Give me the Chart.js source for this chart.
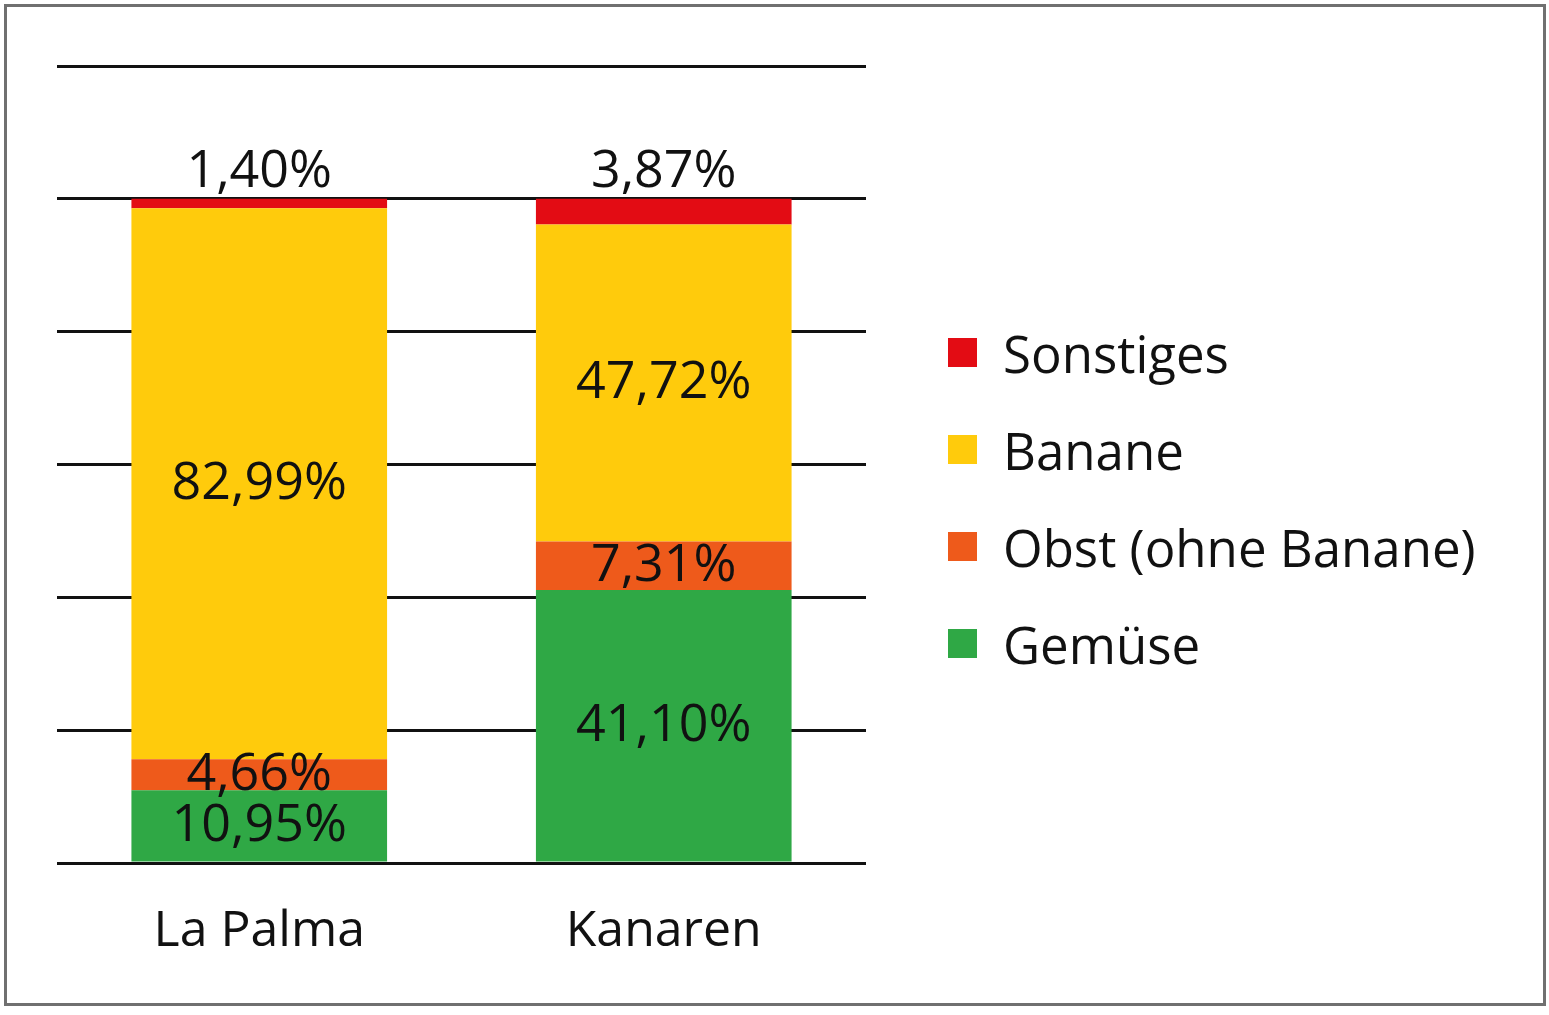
<!DOCTYPE html>
<html lang="de">
<head>
<meta charset="utf-8">
<title>Anteile Export La Palma / Kanaren</title>
<script src="https://cdn.jsdelivr.net/npm/chart.js@4.4.1/dist/chart.umd.min.js"></script>
<style>
  html, body { margin: 0; padding: 0; background: #fff; }
  #wrap { position: relative; width: 1549px; height: 1015px; }
  #frame {
    position: absolute; left: 4px; top: 4px; width: 1536px; height: 996px;
    border: 3px solid #707070; pointer-events: none;
  }
  #legend {
    position: absolute; left: 948px; top: 304px; margin: 0; padding: 0;
    list-style: none; font-family: "Open Sans", sans-serif;
    font-size: 51px; color: #111;
  }
  #legend li { display: flex; align-items: center; height: 97px; white-space: nowrap; }
  #legend span.box { width: 29px; height: 29px; margin-right: 26px; flex: none; }
</style>
</head>
<body>
<div id="wrap">
  <canvas id="exportChart"></canvas>
  <ul id="legend"></ul>
  <div id="frame"></div>
</div>
<script>
// Categories and shares (percent) per product group
const regions = ["La Palma", "Kanaren"];
const gemuese = [10.95, 41.10];
const obst = [4.66, 7.31];
const banane = [82.99, 47.72];
const sonstiges = [1.40, 3.87];
const yTicks = [0, 20, 40, 60, 80, 100, 120];

// Write numbers the German way: 82,99%
const fmt = (v) => v.toFixed(2).replace(".", ",") + "%";

// Draws the value labels; the top series sits above the bar
const valueLabels = {
  id: "valueLabels",
  afterDatasetsDraw(chart) {
    const { ctx } = chart;
    const last = chart.data.datasets.length - 1;
    ctx.save();
    ctx.font = '52px "Open Sans", sans-serif';
    ctx.fillStyle = "#111";
    ctx.textAlign = "center";
    chart.data.datasets.forEach((ds, i) => {
      chart.getDatasetMeta(i).data.forEach((bar, j) => {
        const text = fmt(ds.data[j]);
        if (i === last) {
          ctx.textBaseline = "alphabetic";
          ctx.fillText(text, bar.x, bar.y - 12);
        } else {
          ctx.textBaseline = "middle";
          ctx.fillText(text, bar.x, (bar.y + bar.base) / 2);
        }
      });
    });
    ctx.restore();
  },
};

const ctx = document.getElementById("exportChart").getContext("2d");
const exportChart = new Chart(ctx, {
  type: "bar",
  data: {
    labels: regions,
    datasets: [
      { label: "Gemüse", data: gemuese, backgroundColor: "#2fa845" },
      { label: "Obst (ohne Banane)", data: obst, backgroundColor: "#ee5a1b" },
      { label: "Banane", data: banane, backgroundColor: "#ffcb0c" },
      { label: "Sonstiges", data: sonstiges, backgroundColor: "#e30c14" },
    ],
  },
  options: {
    responsive: true,
    maintainAspectRatio: false,
    animation: false,
    layout: { padding: { top: 66, right: 683, bottom: 14, left: 57 } },
    datasets: { bar: { categoryPercentage: 1, barPercentage: 0.632, borderWidth: 0 } },
    scales: {
      x: {
        stacked: true,
        grid: { display: false, drawTicks: false },
        border: { display: false },
        ticks: {
          padding: 39,
          color: "#111",
          font: { family: "Open Sans", size: 50, lineHeight: 1.2 },
        },
      },
      y: {
        stacked: true,
        min: yTicks[0],
        max: yTicks[yTicks.length - 1],
        afterBuildTicks: (scale) => {
          scale.ticks = yTicks.map((v) => ({ value: v }));
        },
        afterFit: (scale) => {
          scale.width = 0;
        },
        grid: { color: "#111", lineWidth: 3, drawTicks: false },
        border: { display: false },
        ticks: { display: false },
      },
    },
    plugins: {
      legend: { display: false },
      tooltip: { enabled: false },
    },
  },
  plugins: [valueLabels],
});

// Legend built from the chart's datasets, top series first
const legendEl = document.getElementById("legend");
exportChart.data.datasets.slice().reverse().forEach((ds) => {
  const li = document.createElement("li");
  const box = document.createElement("span");
  box.className = "box";
  box.style.background = ds.backgroundColor;
  li.appendChild(box);
  li.appendChild(document.createTextNode(ds.label));
  legendEl.appendChild(li);
});
</script>
</body>
</html>
